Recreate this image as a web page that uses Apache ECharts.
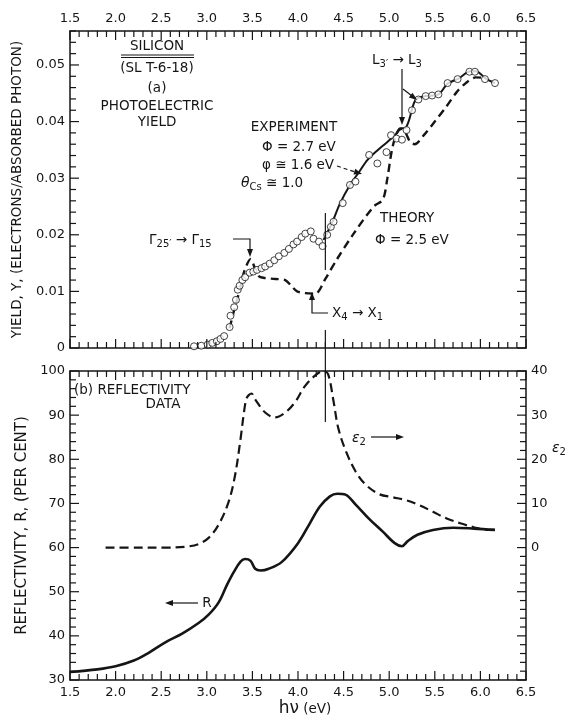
<!DOCTYPE html>
<html>
<head>
<meta charset="utf-8">
<title>Silicon - photoelectric yield and reflectivity</title>
<script src="https://cdn.jsdelivr.net/npm/echarts@6/dist/echarts.min.js"></script>
<style>
  html, body { margin: 0; padding: 0; background: #fff; }
  #chart { width: 570px; height: 719px; }
</style>
</head>
<body>
<div id="chart"></div>
<script>
// ---- data ----
// (a) photoelectric yield, measured points (open circles)
var expX = [2.86, 2.94, 3.01, 3.06, 3.11, 3.15, 3.19, 3.25, 3.26, 3.30, 3.32, 3.34, 3.36, 3.39, 3.42, 3.47, 3.51, 3.55, 3.60, 3.64,
            3.69, 3.74, 3.79, 3.85, 3.90, 3.95, 3.99, 4.04, 4.08, 4.14, 4.17, 4.23, 4.27, 4.32, 4.36, 4.39, 4.49, 4.57, 4.63, 4.78,
            4.87, 4.97, 5.02, 5.08, 5.14, 5.19, 5.25, 5.32, 5.40, 5.47, 5.54, 5.64, 5.75, 5.88, 5.94, 6.05, 6.16];
var expY = [0.0003, 0.0004, 0.0006, 0.0009, 0.0012, 0.0016, 0.0021, 0.0037, 0.0057, 0.0072, 0.0085, 0.0103, 0.0110, 0.0120, 0.0125, 0.0133, 0.0135, 0.0138, 0.0141, 0.0144,
            0.0149, 0.0155, 0.0162, 0.0168, 0.0175, 0.0183, 0.0188, 0.0196, 0.0202, 0.0206, 0.0193, 0.0188, 0.0180, 0.0200, 0.0214, 0.0223, 0.0256, 0.0288, 0.0294, 0.0341,
            0.0326, 0.0346, 0.0376, 0.0370, 0.0368, 0.0385, 0.0420, 0.0439, 0.0445, 0.0446, 0.0448, 0.0468, 0.0475, 0.0488, 0.0488, 0.0475, 0.0468];
// experiment, drawn curve
var fitX = [4.28, 4.37, 4.46, 4.57, 4.67, 4.76, 4.87, 4.98, 5.07, 5.12, 5.17, 5.21, 5.27, 5.31, 5.40, 5.54, 5.64, 5.76, 5.89, 5.95, 6.06, 6.16];
var fitY = [0.0191, 0.0220, 0.0255, 0.0288, 0.0311, 0.0332, 0.0349, 0.0364, 0.0377, 0.0388, 0.0388, 0.0399, 0.0432, 0.0441, 0.0445, 0.0448, 0.0467, 0.0476, 0.0489, 0.0489, 0.0476, 0.0468];
// theory, phi = 2.5 eV
var thX = [3.25, 3.30, 3.36, 3.41, 3.48, 3.53, 3.57, 3.62, 3.75, 3.86, 3.93, 3.99, 4.08, 4.19, 4.30, 4.42, 4.61, 4.83, 4.93, 4.98,
           5.03, 5.08, 5.13, 5.18, 5.23, 5.28, 5.38, 5.50, 5.62, 5.74, 5.84, 5.95, 6.05];
var thY = [0.0035, 0.0067, 0.0102, 0.0135, 0.0157, 0.0140, 0.0127, 0.0124, 0.0122, 0.0120, 0.0109, 0.0100, 0.0097, 0.0096, 0.0122, 0.0155, 0.0202, 0.0250, 0.0262, 0.0300,
           0.0350, 0.0378, 0.0387, 0.0380, 0.0364, 0.0360, 0.0376, 0.0400, 0.0425, 0.0452, 0.0468, 0.0478, 0.0477];

// (b) reflectivity R (per cent)
var rX = [1.5, 1.8, 2.0, 2.2, 2.35, 2.55, 2.73, 2.91, 3.02, 3.13, 3.22, 3.30, 3.37, 3.42, 3.48, 3.53, 3.59, 3.68, 3.82, 4.0,
          4.13, 4.24, 4.35, 4.43, 4.52, 4.63, 4.78, 4.93, 5.06, 5.14, 5.20, 5.31, 5.48, 5.70, 5.93, 6.16];
var rY = [31.8, 32.4, 33.1, 34.4, 36.0, 38.6, 40.5, 42.9, 44.8, 47.6, 51.5, 54.6, 56.8, 57.4, 57.0, 55.2, 54.8, 55.2, 56.7, 61.0,
          65.5, 69.3, 71.6, 72.2, 72.0, 69.8, 66.5, 63.6, 61.0, 60.3, 61.4, 62.9, 64.0, 64.5, 64.3, 64.0];
// epsilon 2
var e2X = [1.89, 2.26, 2.55, 2.77, 2.91, 3.02, 3.13, 3.24, 3.31, 3.37, 3.41, 3.44, 3.49, 3.53, 3.64, 3.75, 3.86, 3.97, 4.07, 4.19,
           4.28, 4.33, 4.39, 4.44, 4.52, 4.63, 4.74, 4.89, 5.04, 5.19, 5.33, 5.48, 5.63, 5.78, 5.93, 6.07, 6.16];
var e2Y = [0, 0, 0, 0.2, 0.8, 2.2, 5.2, 10.4, 16.4, 24.6, 31.0, 34.0, 34.9, 33.6, 30.6, 29.5, 30.6, 33.0, 36.4, 39.0,
           40.0, 39.3, 33.1, 27.2, 22.1, 17.3, 14.3, 12.1, 11.4, 10.7, 9.6, 8.1, 6.6, 5.5, 4.6, 4.0, 4.0];

// axis ranges
var eVRange = [1.5, 6.5];
var yieldRange = [0, 0.056];
var rRange = [30, 100];
var e2Range = [-30, 40];

function pairs(xs, ys) {
    return xs.map(function (x, i) { return [x, ys[i]]; });
}

var F = 'DejaVu Sans';
var INK = '#151515';
var W = 570;
var grids = [
    { left: 70, right: 44, top: 31, height: 317 },
    { left: 70, right: 44, top: 371, height: 309 }
];

var myChart = echarts.init(document.getElementById('chart'), null, { renderer: 'canvas' });

function eVAxis(grid, pos, labels) {
    return {
        type: 'value', gridIndex: grid, position: pos,
        min: eVRange[0], max: eVRange[1], interval: 0.5,
        axisLine: { show: true, onZero: false, lineStyle: { color: INK, width: 1.5 } },
        axisTick: { show: false },
        splitLine: { show: false },
        axisLabel: { show: labels, margin: 6, color: INK, fontFamily: F, fontSize: 13,
                     formatter: function (v) { return v.toFixed(1); } }
    };
}
function valAxis(grid, pos, range, step, fmt, extra) {
    var ax = {
        type: 'value', gridIndex: grid, position: pos,
        min: range[0], max: range[1], interval: step,
        axisLine: { show: true, onZero: false, lineStyle: { color: INK, width: 1.5 } },
        axisTick: { show: false },
        splitLine: { show: false },
        axisLabel: { show: !!fmt, margin: 5, color: INK, fontFamily: F, fontSize: 13, formatter: fmt }
    };
    return Object.assign(ax, extra || {});
}

var yieldFmt = function (v) {
    var k = Math.round(v * 1000);
    if (k % 10 !== 0) return '';
    return k === 0 ? '0' : (k / 1000).toFixed(2);
};

var option = {
    animation: false,
    backgroundColor: '#fff',
    grid: grids,
    xAxis: [
        eVAxis(0, 'bottom', false),
        eVAxis(0, 'top', true),
        eVAxis(1, 'bottom', true),
        eVAxis(1, 'top', false)
    ],
    yAxis: [
        valAxis(0, 'left', yieldRange, 0.01, yieldFmt, {
            name: 'YIELD, Y, (ELECTRONS/ABSORBED PHOTON)', nameLocation: 'middle', nameGap: 46,
            nameTextStyle: { fontFamily: F, fontSize: 13.5, color: INK }
        }),
        valAxis(0, 'right', yieldRange, 0.01, null),
        valAxis(1, 'left', rRange, 10, function (v) { return String(v); }, {
            name: 'REFLECTIVITY, R, (PER CENT)', nameLocation: 'middle', nameGap: 25,
            nameTextStyle: { fontFamily: F, fontSize: 15, color: INK }
        }),
        valAxis(1, 'right', e2Range, 10, function (v) { return v >= 0 ? String(v) : ''; })
    ],
    series: [
        {
            name: 'theory', type: 'line', xAxisIndex: 0, yAxisIndex: 0,
            data: pairs(thX, thY), smooth: 0.3, showSymbol: false, z: 2,
            lineStyle: { color: INK, width: 2.4, type: [8, 5] }
        },
        {
            name: 'experiment curve', type: 'line', xAxisIndex: 0, yAxisIndex: 0,
            data: pairs(fitX, fitY), smooth: 0.3, showSymbol: false, z: 3,
            lineStyle: { color: INK, width: 2 }
        },
        {
            name: 'experiment', type: 'scatter', xAxisIndex: 0, yAxisIndex: 0,
            data: pairs(expX, expY), symbol: 'circle', symbolSize: 7, z: 4,
            itemStyle: { color: '#fff', borderColor: INK, borderWidth: 1 }
        },
        {
            name: 'R', type: 'line', xAxisIndex: 2, yAxisIndex: 2,
            data: pairs(rX, rY), smooth: 0.35, showSymbol: false,
            lineStyle: { color: INK, width: 2.6 }
        },
        {
            name: 'e2', type: 'line', xAxisIndex: 2, yAxisIndex: 3,
            data: pairs(e2X, e2Y), smooth: 0.35, showSymbol: false,
            lineStyle: { color: INK, width: 2.2, type: [9, 5] }
        }
    ]
};
myChart.setOption(option);

// ---- drawing helpers for ticks and notes ----
var richStyle = {
    n: { fontFamily: F, fontSize: 13.5, color: INK, lineHeight: 18, verticalAlign: 'middle' },
    i: { fontFamily: F, fontSize: 14, fontStyle: 'italic', color: INK, lineHeight: 18, verticalAlign: 'middle' },
    s: { fontFamily: F, fontSize: 10, color: INK, lineHeight: 10, verticalAlign: 'bottom' },
    h: { fontFamily: F, fontSize: 17, color: INK, lineHeight: 18, verticalAlign: 'middle' }
};
function txt(x, y, s, align, size) {
    return {
        type: 'text', x: x, y: y, z: 10,
        style: { text: s, fontFamily: F, fontSize: size || 13.5, fill: INK,
                 align: align || 'center', verticalAlign: 'middle', rich: richStyle }
    };
}
function seg(pts, dashed) {
    return {
        type: 'polyline', z: 10, shape: { points: pts },
        style: { stroke: INK, lineWidth: 1.2, fill: null, lineDash: dashed ? [4, 3] : null }
    };
}
function head(x1, y1, x2, y2) {
    var a = Math.atan2(y2 - y1, x2 - x1), L = 8, Wd = 3;
    var bx = x2 - L * Math.cos(a), by = y2 - L * Math.sin(a);
    return {
        type: 'polygon', z: 10,
        shape: { points: [[x2, y2], [bx - Wd * Math.sin(a), by + Wd * Math.cos(a)], [bx + Wd * Math.sin(a), by - Wd * Math.cos(a)]] },
        style: { fill: INK }
    };
}

// inward tick marks on all four sides of each box
var ticks = [];
function gridTicks(gr, yRange, yStep, yMajor) {
    var left = gr.left, right = W - gr.right, top = gr.top, bottom = gr.top + gr.height;
    var n = Math.round((eVRange[1] - eVRange[0]) / 0.1);
    for (var i = 0; i <= n; i++) {
        var x = left + (right - left) * i / n;
        var len = (i % 5 === 0) ? 9 : 6;
        ticks.push(seg([[x, bottom], [x, bottom - len]]));
        ticks.push(seg([[x, top], [x, top + len]]));
    }
    var m = Math.round((yRange[1] - yRange[0]) / yStep);
    for (var j = 0; j <= m; j++) {
        var v = yRange[0] + j * yStep;
        var y = bottom - (bottom - top) * (v - yRange[0]) / (yRange[1] - yRange[0]);
        var major = Math.abs(v / yMajor - Math.round(v / yMajor)) < 1e-6;
        var l2 = major ? 9 : 6;
        ticks.push(seg([[left, y], [left + l2, y]]));
        ticks.push(seg([[right, y], [right - l2, y]]));
    }
}
gridTicks(grids[0], yieldRange, 0.002, 0.01);
gridTicks(grids[1], rRange, 2, 10);

var xv = +myChart.convertToPixel({ xAxisIndex: 2 }, 4.3);

var g = [
    txt(157, 46, 'SILICON'),
    seg([[121, 55], [194, 55]]),
    seg([[121, 57.5], [194, 57.5]]),
    txt(157, 68, '(SL T-6-18)'),
    txt(157, 88, '(a)'),
    txt(157, 106, 'PHOTOELECTRIC'),
    txt(157, 122, 'YIELD'),

    txt(294, 127, 'EXPERIMENT'),
    txt(262, 147, '{n|\u03A6 = 2.7 eV}', 'left'),
    txt(262, 165, '{n|\u03C6 \u2245 1.6 eV}', 'left'),
    seg([[337, 166], [358, 173]], true), head(337, 166, 362, 174),
    txt(241, 183, '{i|\u03B8}{s|Cs}{n| \u2245 1.0}', 'left'),

    txt(380, 218, 'THEORY', 'left'),
    txt(375, 240, '{n|\u03A6 = 2.5 eV}', 'left'),

    txt(372, 60, '{n|L}{s|3\u2032}{n| \u2192 L}{s|3}', 'left'),
    seg([[402, 69], [402, 118]]), head(402, 69, 402, 125),
    seg([[403, 89], [412, 96]]), head(403, 89, 417, 100),

    txt(149, 240, '{n|\u0393}{s|25\u2032}{n| \u2192 \u0393}{s|15}', 'left'),
    seg([[233, 239], [250, 239], [250, 251]]), head(250, 239, 250, 257),

    txt(332, 313, '{n|X}{s|4}{n| \u2192 X}{s|1}', 'left'),
    seg([[328, 313], [312, 313], [312, 299]]), head(312, 313, 312, 292),

    seg([[xv, 213], [xv, 270]]),
    seg([[xv, 330], [xv, 422]]),

    txt(74, 390, '(b) REFLECTIVITY', 'left'),
    txt(163, 404, 'DATA'),
    txt(207, 603, 'R'),
    seg([[198, 603], [172, 603]]), head(198, 603, 165, 603),

    txt(352, 438, '{i|\u03B5}{s|2}', 'left'),
    seg([[371, 437], [396, 437]]), head(371, 437, 404, 437),
    txt(552, 448, '{i|\u03B5}{s|2}', 'left'),

    txt(305, 709, '{h|h\u03BD} {n|(eV)}')
];

myChart.setOption({ graphic: g.concat(ticks) });
</script>
</body>
</html>
